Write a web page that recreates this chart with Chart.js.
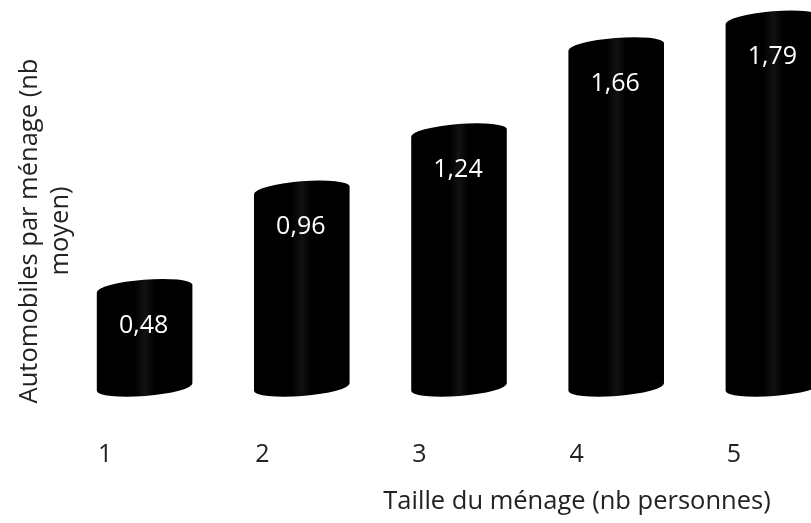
<!DOCTYPE html>
<html lang="fr">
<head>
<meta charset="utf-8">
<title>Automobiles par ménage</title>
<script src="https://cdn.jsdelivr.net/npm/chart.js@4/dist/chart.umd.min.js"></script>
<style>
  html, body { margin: 0; padding: 0; background: #ffffff; overflow: hidden; }
  #wrap { position: absolute; left: 0; top: 0; width: 852px; height: 523px; }
</style>
</head>
<body>
<div id="wrap"><canvas id="chart"></canvas></div>
<script>
// Household size (number of persons)
const householdSizes = ['1', '2', '3', '4', '5'];
// Average number of cars per household
const carsPerHousehold = [0.48, 0.96, 1.24, 1.66, 1.79];
// Axis captions
const xAxisTitle = 'Taille du ménage (nb personnes)';
const yAxisTitleLines = ['Automobiles par ménage (nb', 'moyen)'];

const FONT = '"Open Sans", "DejaVu Sans", sans-serif';
const TEXT_COLOR = '#222222';

// French decimal formatting: 0.48 -> "0,48"
const frNumber = v => v.toFixed(2).replace('.', ',');

// Draws each bar as a black cylinder (tilted top/bottom ellipses) with its value inside
const cylinderBars = {
  id: 'cylinderBars',
  afterDatasetsDraw(chart) {
    const ctx = chart.ctx;
    const meta = chart.getDatasetMeta(0);
    const tilt = -0.08;
    const ry = 9;
    meta.data.forEach((el, i) => {
      const { x, y, base, width } = el.getProps(['x', 'y', 'base', 'width'], true);
      const rx = width / 2;
      const cos = Math.cos(tilt), sin = Math.sin(tilt);

      const grad = ctx.createLinearGradient(x - rx, 0, x + rx, 0);
      grad.addColorStop(0, '#000000');
      grad.addColorStop(0.4, '#000000');
      grad.addColorStop(0.5, '#121212');
      grad.addColorStop(0.6, '#000000');
      grad.addColorStop(1, '#000000');

      ctx.save();
      ctx.beginPath();
      ctx.ellipse(x, y, rx, ry, tilt, Math.PI, 2 * Math.PI);
      ctx.lineTo(x + rx * cos, base + rx * sin);
      ctx.ellipse(x, base, rx, ry, tilt, 0, Math.PI);
      ctx.closePath();
      ctx.fillStyle = grad;
      ctx.fill();

      ctx.fillStyle = '#ffffff';
      ctx.font = '25px ' + FONT;
      ctx.textAlign = 'center';
      ctx.textBaseline = 'middle';
      ctx.fillText(frNumber(carsPerHousehold[i]), x - 1, y + 37);
      ctx.restore();
    });
  }
};

// Axis captions
const axisCaptions = {
  id: 'axisCaptions',
  afterDraw(chart) {
    const ctx = chart.ctx;
    ctx.save();
    ctx.fillStyle = TEXT_COLOR;
    ctx.font = '25.5px ' + FONT;
    ctx.textAlign = 'center';
    ctx.textBaseline = 'middle';
    ctx.fillText(xAxisTitle, 577, 502);

    const lineX = [30, 61];
    yAxisTitleLines.forEach((line, k) => {
      ctx.save();
      ctx.translate(lineX[k], 231);
      ctx.rotate(-Math.PI / 2);
      ctx.fillText(line, 0, 0);
      ctx.restore();
    });
    ctx.restore();
  }
};

new Chart(document.getElementById('chart'), {
  type: 'bar',
  data: {
    labels: householdSizes,
    datasets: [{
      data: carsPerHousehold,
      backgroundColor: 'rgba(0,0,0,0)',
      borderWidth: 0,
      categoryPercentage: 1,
      barPercentage: 0.61
    }]
  },
  options: {
    responsive: true,
    maintainAspectRatio: false,
    animation: false,
    events: [],
    layout: { padding: { left: 66, right: 0, top: 8, bottom: 0 } },
    plugins: {
      legend: { display: false },
      tooltip: { enabled: false }
    },
    scales: {
      x: {
        grid: { display: false, drawTicks: false },
        border: { display: false },
        ticks: {
          color: TEXT_COLOR,
          font: { family: FONT, size: 25 },
          padding: 53,
          labelOffset: -39.5,
          maxRotation: 0
        }
      },
      y: {
        display: false,
        min: 0,
        max: 1.85
      }
    }
  },
  plugins: [cylinderBars, axisCaptions]
});
</script>
</body>
</html>
